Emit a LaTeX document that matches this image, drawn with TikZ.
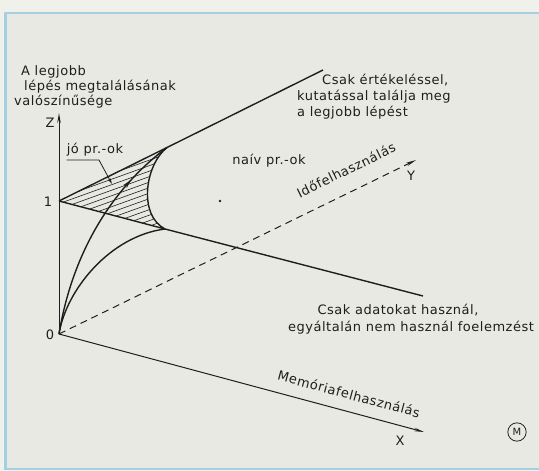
\documentclass[tikz,border=0pt]{standalone}
\usepackage{fontspec}
\setmainfont{DejaVu Sans}
\newfontfamily\lettering[LetterSpace=4]{DejaVu Sans}
\usetikzlibrary{arrows.meta,decorations.markings}
\definecolor{paper}{HTML}{F1F1EC}
\definecolor{panel}{HTML}{E9E9E4}
\definecolor{frameblue}{HTML}{A5CFE2}
\definecolor{ink}{HTML}{1E1E1E}
\begin{document}
\begin{tikzpicture}[x=1pt,y=-1pt,
  lbl/.style={font=\lettering\fontsize{13}{15}\selectfont, text=ink, inner sep=0pt},
  mainline/.style={draw=ink, line width=1.4pt},
  axisline/.style={draw=ink, line width=1pt, -{Stealth[length=10pt,width=3.5pt]}},
  hatchline/.style={draw=ink, line width=0.6pt}]
\fill[paper] (0,0) rectangle (539,471);
\useasboundingbox (0,0) rectangle (539,471);
\fill[panel] (5,13) rectangle (545,469);
\draw[frameblue, line width=1.5pt] (545,13) -- (5,13) -- (5,469) -- (545,469);
\draw[frameblue, line width=3pt] (5,13) -- (5,469);
% key points
\coordinate (O) at (59,334);
\coordinate (Ztip) at (59,113);
\coordinate (Xtip) at (424,432);
\coordinate (Ytip) at (416,160);
\coordinate (One) at (59,201);
\coordinate (U) at (167,147.5);
\coordinate (L) at (165,229);
\coordinate (Uend) at (323,70);
\coordinate (Lend) at (423,296);
% hatching
\begin{scope}
\clip (One) -- (U) .. controls (145,165) and (138,215) .. (L) -- cycle;
\foreach \c in {0,5.5,...,200} \draw[hatchline] (40,150+\c) -- (200,150+\c-0.36*160);
\end{scope}
% axes
\draw[axisline] (O) -- (Ztip);
\draw[axisline] (O) -- (Xtip);
\draw[axisline, dash pattern=on 7pt off 5pt] (O) -- (Ytip);
% boundary lines
\draw[mainline] (One) -- (U) -- (Uend);
\draw[mainline] (One) -- (L) -- (Lend);
% curves
\draw[mainline, postaction={decorate}, decoration={markings, mark=at position 0.78 with {\arrow{Stealth[length=9pt,width=4.5pt]}}}] (O) .. controls (72,255) and (110,190) .. (U);
\draw[mainline] (O) .. controls (66,290) and (110,236) .. (L);
\draw[mainline] (U) .. controls (145,165) and (138,215) .. (L);
% dot
\node[circle, fill=ink, inner sep=0pt, minimum size=2.6pt] (dot) at (220,201) {};
% labels
\node[lbl, anchor=west] (t1) at (21,72) {A legjobb};
\node[lbl, anchor=west] (t2) at (24,87) {lépés megtalálásának};
\node[lbl, anchor=west] (t3) at (14,102) {valószínűsége};
\node[lbl] (zl) at (50,123) {Z};
\node[lbl] (onel) at (48,202) {1};
\node[lbl] (zerol) at (50,335) {0};
\node[lbl] (jo) at (95,150) {jó pr.-ok};
\coordinate (jobend) at (99,160);
\coordinate (joarrow) at (112,184);
\draw[ink, line width=0.8pt, -{Stealth[length=6pt,width=3pt]}] (jo.south west |- jobend) -- (jobend) -- (joarrow);
\node[lbl] (naiv) at (269,161) {naív pr.-ok};
\node[lbl, anchor=west] (c1) at (322,80) {Csak értékeléssel,};
\node[lbl, anchor=west] (c2) at (297,97) {kutatással találja meg};
\node[lbl, anchor=west] (c3) at (297,113) {a legjobb lépést};
\node[lbl, rotate=26] (ido) at (346,170) {Időfelhasználás};
\node[lbl] (yl) at (411,176) {Y};
\node[lbl] (d1) at (398,310) {Csak adatokat használ,};
\node[lbl] (d2) at (411,328) {egyáltalán nem használ foelemzést};
\node[lbl, rotate=-15] (mem) at (349,394) {Memóriafelhasználás};
\node[lbl] (xl) at (400,441) {X};
\node[draw=ink, circle, line width=0.8pt, inner sep=2.5pt, text=ink, font=\fontsize{10}{10}\selectfont] (mlogo) at (517,432) {M};
\end{tikzpicture}
\end{document}
